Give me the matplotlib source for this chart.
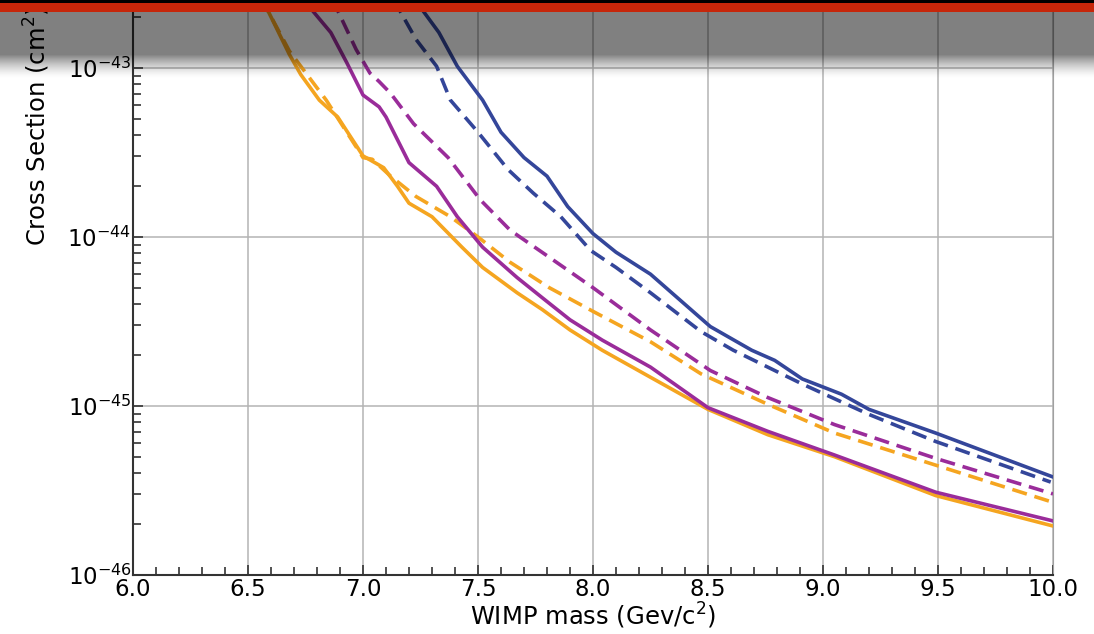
import numpy as np
import matplotlib
matplotlib.use("Agg")
import matplotlib.pyplot as plt
from matplotlib.ticker import MultipleLocator, LogLocator, NullFormatter


# WIMP mass (GeV/c^2) and log10 of cross section (cm^2)
orange_solid_mass = [6.53, 6.59, 6.68, 6.73, 6.81, 6.89, 7.00, 7.09, 7.15, 7.20, 7.30, 7.43,
                     7.52, 7.67, 7.78, 7.90, 8.04, 8.25, 8.50, 8.76, 9.05, 9.49, 10.0]
orange_solid_log = [-42.52, -42.67, -42.92, -43.04, -43.19, -43.29, -43.52, -43.59, -43.70, -43.80,
                    -43.88, -44.06, -44.18, -44.33, -44.43, -44.55, -44.67, -44.83, -45.02, -45.17,
                    -45.30, -45.53, -45.71]

orange_dashed_mass = [6.53, 6.59, 6.68, 6.84, 7.00, 7.04, 7.12, 7.23, 7.38, 7.50, 7.64, 7.81,
                      8.00, 8.25, 8.47, 8.76, 9.05, 9.49, 10.0]
orange_dashed_log = [-42.52, -42.67, -42.90, -43.19, -43.53, -43.54, -43.64, -43.76, -43.88, -44.00,
                     -44.15, -44.30, -44.44, -44.62, -44.81, -44.99, -45.16, -45.35, -45.57]

purple_solid_mass = [6.73, 6.78, 6.86, 6.93, 7.00, 7.07, 7.10, 7.20, 7.32, 7.41, 7.52, 7.67,
                     7.78, 7.90, 8.04, 8.25, 8.50, 8.76, 9.05, 9.49, 10.0]
purple_solid_log = [-42.56, -42.66, -42.79, -42.97, -43.16, -43.23, -43.29, -43.56, -43.70, -43.88,
                    -44.06, -44.24, -44.36, -44.49, -44.61, -44.77, -45.01, -45.15, -45.29, -45.51,
                    -45.68]

purple_dashed_mass = [6.86, 6.89, 6.97, 7.03, 7.07, 7.12, 7.22, 7.37, 7.51, 7.64, 7.81, 8.00,
                      8.25, 8.51, 8.76, 9.05, 9.49, 10.0]
purple_dashed_log = [-42.57, -42.66, -42.89, -43.03, -43.08, -43.15, -43.33, -43.53, -43.78, -43.96,
                     -44.12, -44.30, -44.55, -44.79, -44.95, -45.11, -45.31, -45.52]

blue_solid_mass = [7.22, 7.26, 7.33, 7.41, 7.52, 7.60, 7.70, 7.80, 7.89, 8.00, 8.10, 8.25,
                   8.51, 8.69, 8.79, 8.91, 9.08, 9.20, 9.49, 10.0]
blue_solid_log = [-42.57, -42.66, -42.79, -42.99, -43.19, -43.38, -43.53, -43.64, -43.82, -43.98,
                  -44.09, -44.22, -44.53, -44.67, -44.73, -44.84, -44.93, -45.02, -45.16, -45.42]

blue_dashed_mass = [7.13, 7.16, 7.23, 7.32, 7.38, 7.50, 7.63, 7.74, 7.86, 7.99, 8.10, 8.25,
                    8.47, 8.61, 8.79, 8.91, 9.20, 9.49, 9.99]
blue_dashed_log = [-42.57, -42.66, -42.83, -42.99, -43.19, -43.38, -43.60, -43.74, -43.88, -44.08,
                   -44.18, -44.33, -44.56, -44.67, -44.79, -44.87, -45.05, -45.21, -45.45]

ORANGE = "#f5a520"
PURPLE = "#9a2c9a"
BLUE = "#34469a"

W, H = 1094, 634
fig = plt.figure(figsize=(W / 100, H / 100), dpi=100)
ax = fig.add_axes([133 / W, 1 - 575 / H, 920 / W, 563 / H])

dash = (0, (4.2, 2.2))
curves = [
	(orange_dashed_mass, orange_dashed_log, ORANGE, dash),
	(orange_solid_mass, orange_solid_log, ORANGE, "-"),
	(purple_dashed_mass, purple_dashed_log, PURPLE, dash),
	(purple_solid_mass, purple_solid_log, PURPLE, "-"),
	(blue_dashed_mass, blue_dashed_log, BLUE, dash),
	(blue_solid_mass, blue_solid_log, BLUE, "-"),
]
for mass, logs, color, ls in curves:
	ax.plot(mass, 10.0 ** np.array(logs), color=color, linestyle=ls, linewidth=2.6)

ax.set_yscale("log")
ax.set_xlim(6.0, 10.0)
ax.set_ylim(1e-46, 10 ** (-46 + 563 / 169))

ax.xaxis.set_major_locator(MultipleLocator(0.5))
ax.xaxis.set_minor_locator(MultipleLocator(0.1))
ax.yaxis.set_major_locator(LogLocator(base=10))
ax.yaxis.set_minor_locator(LogLocator(base=10, subs=np.arange(2, 10)))
ax.yaxis.set_minor_formatter(NullFormatter())

ax.tick_params(which="both", direction="in", top=False, right=False, labelsize=16.5,
               width=1.2, color="#333333")
ax.tick_params(which="major", length=7)
ax.tick_params(which="minor", length=6)
ax.tick_params(axis="x", pad=2)
ax.tick_params(axis="y", pad=1)

ax.grid(True, which="major", color="#b4b4b4", linewidth=1.1)
for side in ["left", "bottom"]:
	ax.spines[side].set_color("#333333")
	ax.spines[side].set_linewidth(1.5)
ax.spines["right"].set_color("#a0a0a0")
ax.spines["top"].set_visible(False)

ax.set_xlabel("WIMP mass (Gev/c$^2$)", fontsize=17.5, labelpad=0)
ax.set_ylabel("Cross Section (cm$^2$)", fontsize=17.5)
ax.yaxis.set_label_coords(-0.088, 0.797)

# slide header overlay: black/red bar and gray shadow fading into the plot
rows = 80
img = np.zeros((rows, 1, 4))
for r in range(rows):
	if r < 3:
		img[r, 0] = [0, 0, 0, 1]
	elif r < 12:
		img[r, 0] = [0.78, 0.15, 0.04, 1]
	elif r < 54:
		img[r, 0] = [0, 0, 0, 0.5]
	else:
		t = min(1.0, (r - 54) / 24)
		img[r, 0] = [0, 0, 0, 0.5 * (1 - t) ** 1.5]
over = fig.add_axes([0, 1 - rows / H, 1, rows / H], zorder=10)
over.imshow(img, aspect="auto", interpolation="nearest", extent=[0, 1, 0, 1])
over.set_axis_off()

fig.savefig("out.png", dpi=100)
